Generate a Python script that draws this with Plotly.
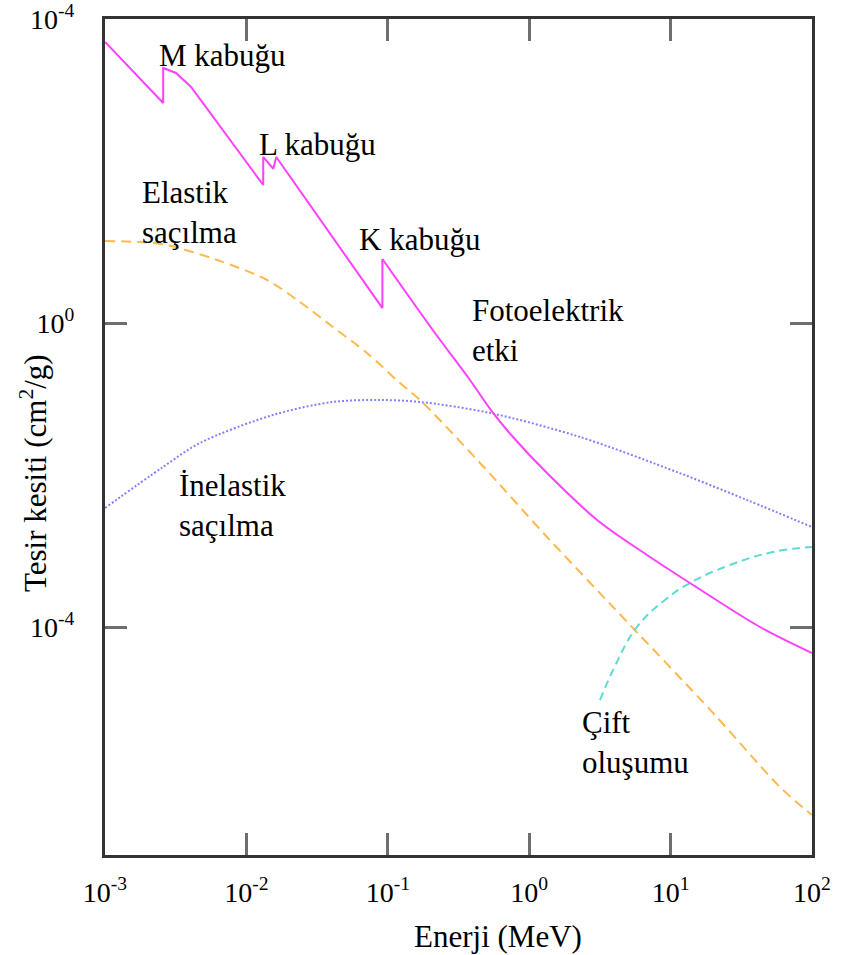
import plotly.graph_objects as go

# Photoelectric effect (with M, L and K absorption edges)
photo_energy = [0.001, 0.00258, 0.00258, 0.00318, 0.00406, 0.01315, 0.01315, 0.01549,
                0.01626, 0.0916, 0.0916, 0.2104, 0.381, 0.555, 0.768, 1.336,
                3.02, 6.81, 13.7, 42.9, 100]
photo_sigma = [5000, 785, 2265, 1950, 1274, 65.5, 153, 107,
               153, 1.57, 6.95, 0.785, 0.178, 0.0655, 0.0316, 0.0106,
               0.00256, 8.86e-4, 3.79e-4, 1.0e-4, 4.55e-5]

# Elastic (coherent) scattering
elastic_energy = [0.001, 0.00177, 0.00274, 0.0062, 0.014, 0.0239, 0.0409, 0.0713,
                  0.122, 0.169, 0.449, 1.336, 3.92, 19.95, 59.4, 100]
elastic_sigma = [12.0, 11.6, 10.6, 6.75, 3.68, 1.89, 0.886, 0.403,
                 0.162, 0.097, 0.0144, 0.00153, 1.83e-4, 7.4e-6, 7.85e-7, 3.36e-7]

# Inelastic (Compton) scattering
inelastic_energy = [0.001, 0.00257, 0.0047, 0.0154, 0.0409, 0.0881, 0.169, 0.528,
                    2.29, 11.6, 34.7, 100]
inelastic_sigma = [0.00368, 0.01274, 0.0264, 0.0616, 0.0914, 0.097, 0.0914, 0.0655,
                   0.0316, 0.0106, 0.00469, 0.00207]

# Pair production
pair_energy = [3.17, 3.92, 5.78, 9.12, 13.7, 26.3, 53.0, 100]
pair_sigma = [1.09e-5, 2.72e-5, 1.0e-4, 2.27e-4, 3.79e-4, 6.54e-4, 9.7e-4, 1.13e-3]

# Axis ticks
x_tickvals = [1e-3, 1e-2, 1e-1, 1e0, 1e1, 1e2]
x_ticktext = ["10<sup>-3</sup>", "10<sup>-2</sup>", "10<sup>-1</sup>",
              "10<sup>0</sup>", "10<sup>1</sup>", "10<sup>2</sup>"]
y_tickvals = [1e4, 1e0, 1e-4]
y_ticktext = ["10<sup>-4</sup>", "10<sup>0</sup>", "10<sup>-4</sup>"]

W, H = 842, 955
ML, MR, MT, MB = 105, 30, 19, 100
PW, PH = W - ML - MR, H - MT - MB
SERIF = "'Liberation Serif', 'Times New Roman', 'DejaVu Serif', serif"
PHOTO_COLOR = "#ff40ff"


def px(x):
    return (x - ML) / PW


def py(y):
    return (H - MB - y) / PH


fig = go.Figure()
fig.add_trace(go.Scatter(x=elastic_energy, y=elastic_sigma, mode="lines",
                         line=dict(color="#ffb84d", width=2, dash="10px,6px",
                                   shape="spline", smoothing=0.9)))
fig.add_trace(go.Scatter(x=inelastic_energy, y=inelastic_sigma, mode="lines",
                         line=dict(color="#8080ff", width=2, dash="2px,2px",
                                   shape="spline", smoothing=0.9)))
fig.add_trace(go.Scatter(x=pair_energy, y=pair_sigma, mode="lines",
                         line=dict(color="#5cdcd2", width=2, dash="8px,5px",
                                   shape="spline", smoothing=1.2)))

# Photoelectric curve: straight segments through the absorption edges,
# smooth from the top of the K edge onwards
k_top = 10
fig.add_trace(go.Scatter(x=photo_energy[:k_top + 1], y=photo_sigma[:k_top + 1],
                         mode="lines", line=dict(color=PHOTO_COLOR, width=2)))
fig.add_trace(go.Scatter(x=photo_energy[k_top:], y=photo_sigma[k_top:],
                         mode="lines", line=dict(color=PHOTO_COLOR, width=2,
                                                 shape="spline", smoothing=0.9)))

labels = [
    ("M kabuğu", 157, 55),
    ("L kabuğu", 257, 145),
    ("Elastik<br>saçılma", 140, 212),
    ("K kabuğu", 357, 240),
    ("Fotoelektrik<br>etki", 470, 331),
    ("İnelastik<br>saçılma", 177, 505),
    ("Çift<br>oluşumu", 580, 742),
]
for text, lx, ly in labels:
    fig.add_annotation(text=text, xref="paper", yref="paper", x=px(lx), y=py(ly),
                       xanchor="left", yanchor="middle", align="left", showarrow=False,
                       font=dict(family=SERIF, size=31, color="black"))

fig.add_annotation(text="Enerji (MeV)", xref="paper", yref="paper", x=px(498), y=py(937),
                   xanchor="center", yanchor="middle", showarrow=False,
                   font=dict(family=SERIF, size=31, color="black"))
fig.add_annotation(text="Tesir kesiti (cm<sup>2</sup>/g)", xref="paper", yref="paper",
                   x=px(33), y=py(473), xanchor="center", yanchor="middle",
                   textangle=-90, showarrow=False,
                   font=dict(family=SERIF, size=31, color="black"))

axis_common = dict(
    type="log", ticks="inside", ticklen=22, tickwidth=2.5, tickcolor="#6e6e6e",
    showline=True, linecolor="#333333", linewidth=3, mirror="ticks",
    showgrid=False, zeroline=False, automargin=False,
    tickfont=dict(family=SERIF, size=28, color="black"),
)
fig.update_xaxes(range=[-3, 2], tickvals=x_tickvals, ticktext=x_ticktext,
                 ticklabelstandoff=10, **axis_common)
fig.update_yaxes(range=[-7, 4], tickvals=y_tickvals, ticktext=y_ticktext,
                 ticklabelstandoff=22, **axis_common)

fig.update_layout(width=W, height=H, margin=dict(l=ML, r=MR, t=MT, b=MB),
                  paper_bgcolor="white", plot_bgcolor="white", showlegend=False,
                  font=dict(family=SERIF))

fig.write_html("out.html")
